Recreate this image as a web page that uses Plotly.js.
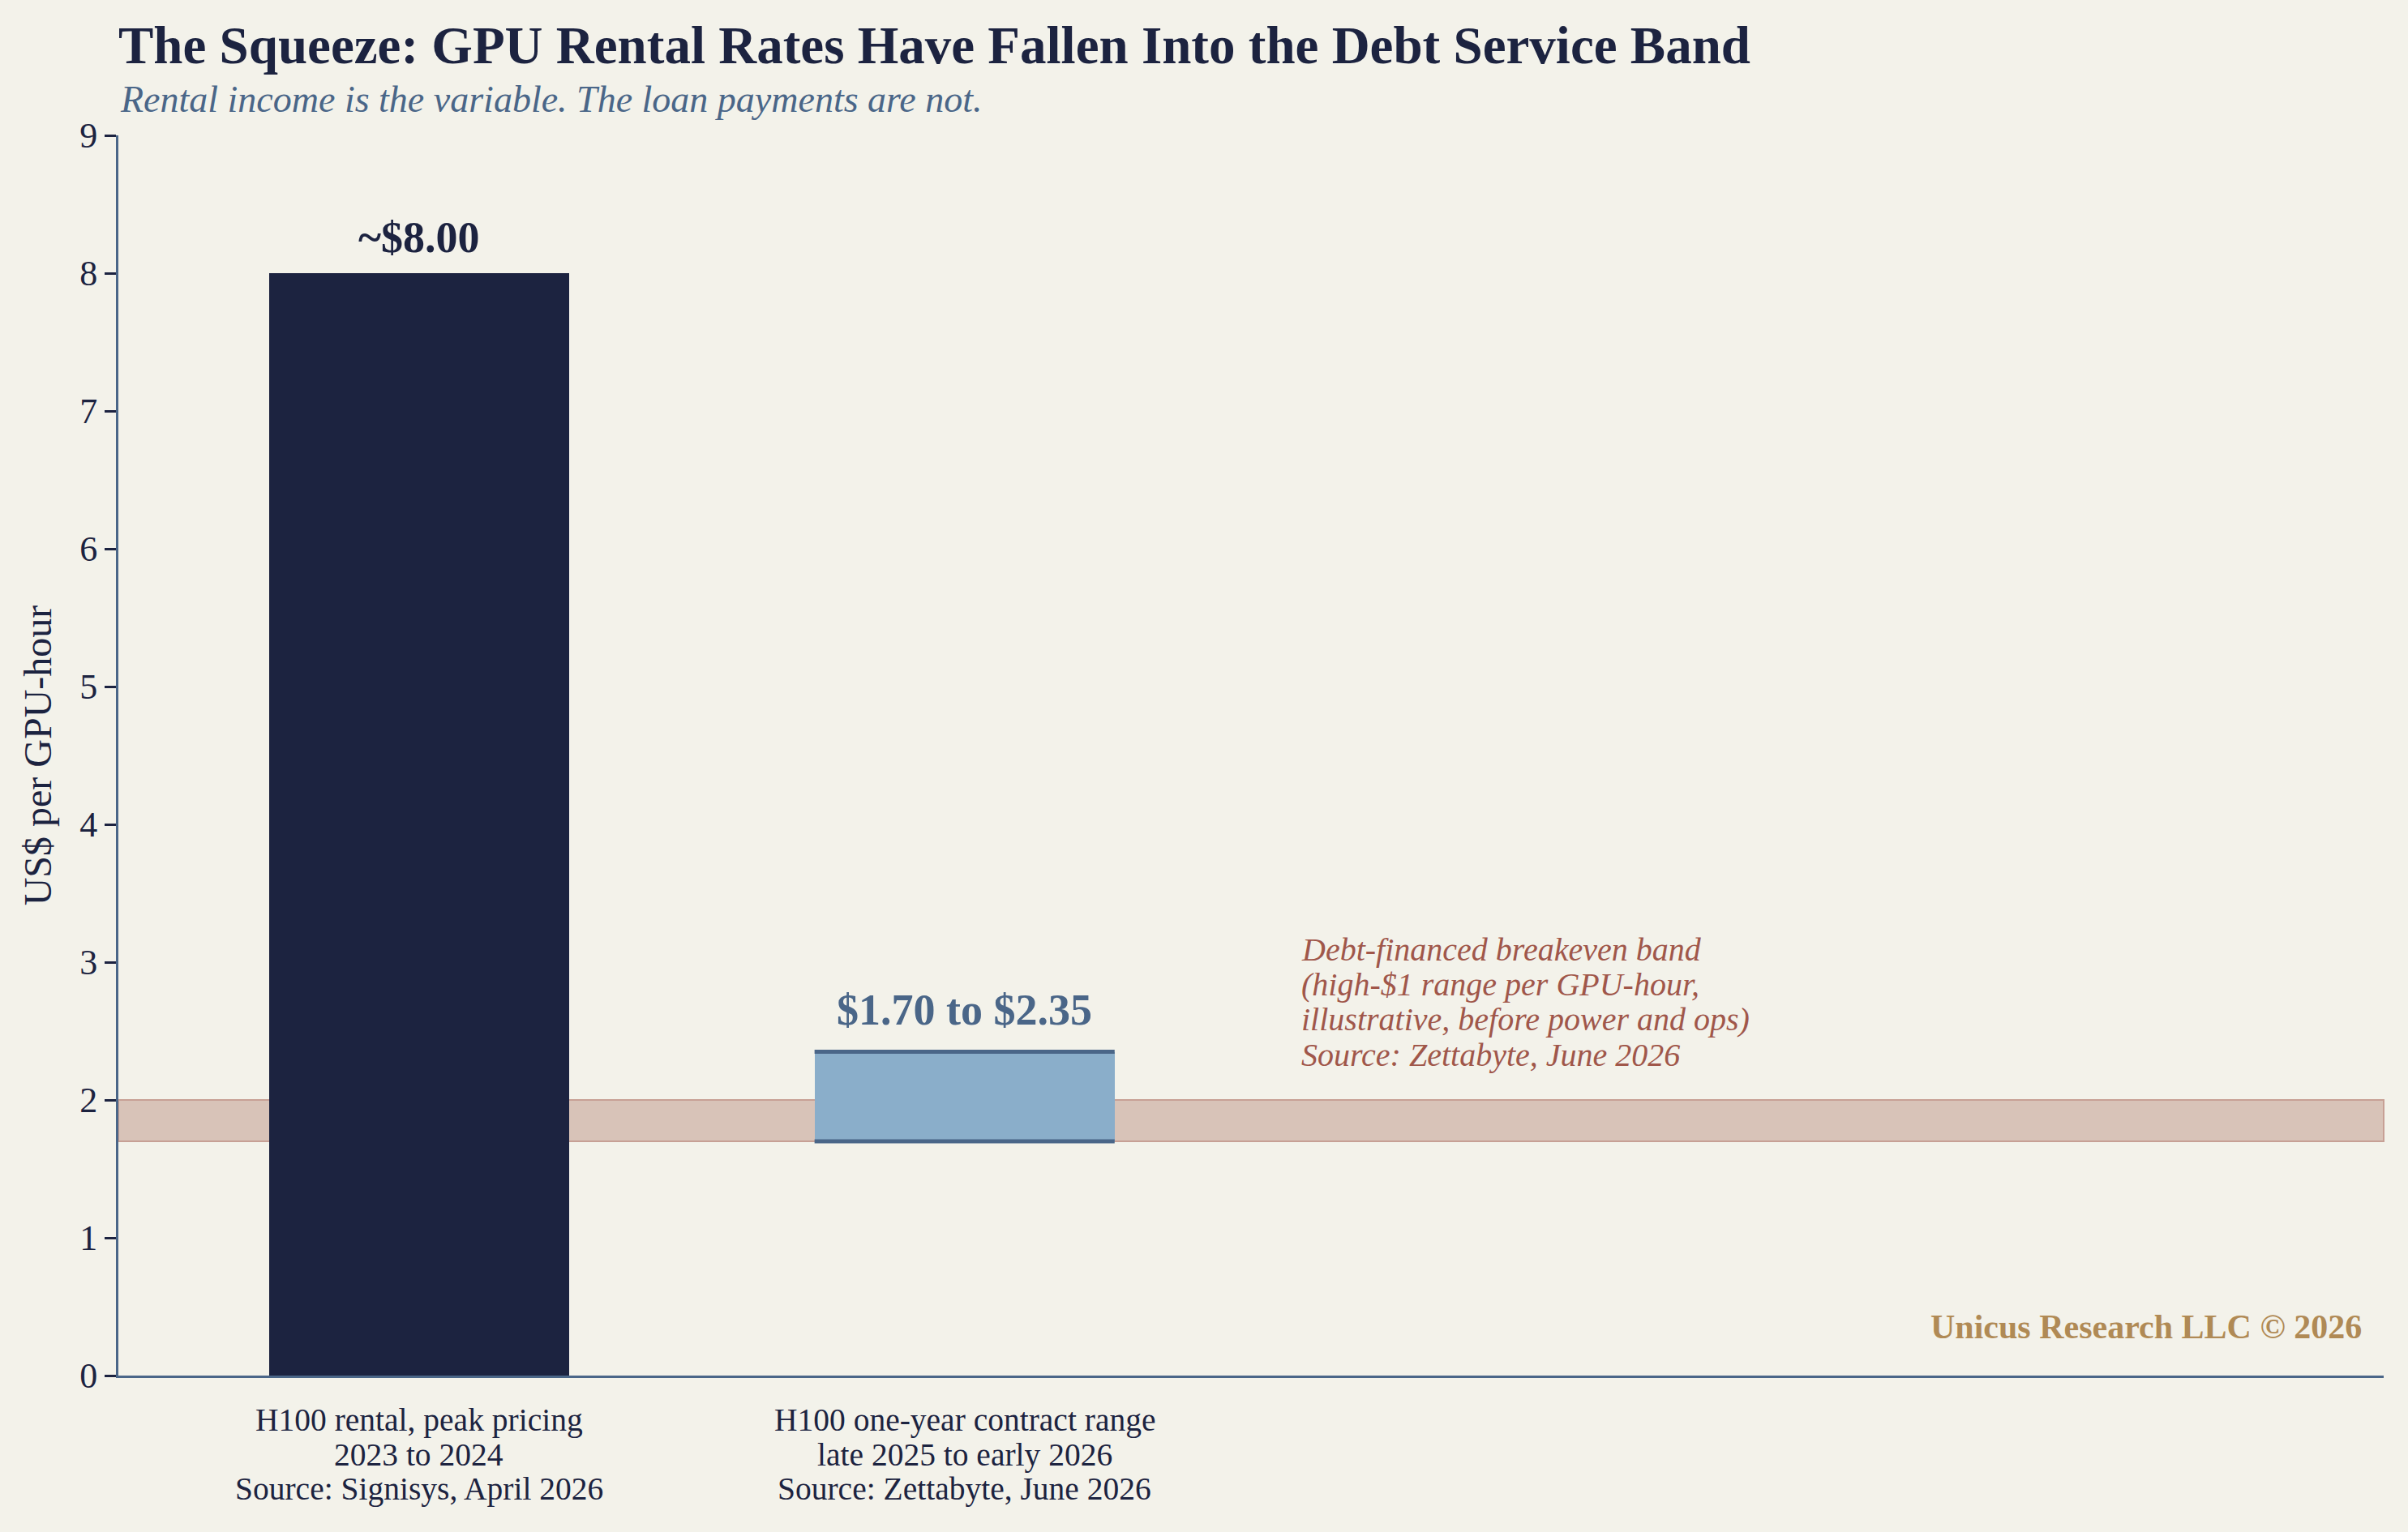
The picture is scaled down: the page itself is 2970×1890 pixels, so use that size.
<!DOCTYPE html>
<html>
<head>
<meta charset="utf-8">
<script src="https://cdn.plot.ly/plotly-3.0.1.min.js"></script>
<style>
  html, body { margin: 0; padding: 0; background: #f3f2ea; }
  #chart { width: 2970px; height: 1890px; }
</style>
</head>
<body>
<div id="chart"></div>
<script>
// categories and values
var categories = [
  ["H100 rental, peak pricing", "2023 to 2024", "Source: Signisys, April 2026"],
  ["H100 one-year contract range", "late 2025 to early 2026", "Source: Zettabyte, June 2026"]
];
var peakRate = [8.00];
var contractLow = [1.70];
var contractHigh = [2.35];
var bandLow = 1.70;
var bandHigh = 2.00;
var peakLabel = "~$8.00";
var rangeLabel = "$1.70 to $2.35";
var noteLines = [
  "Debt-financed breakeven band",
  "(high-$1 range per GPU-hour,",
  "illustrative, before power and ops)",
  "Source: Zettabyte, June 2026"
];

var navy = "#1c2340";
var slate = "#4a6688";
var rust = "#a0574a";
var gold = "#b08a55";
var serif = "Liberation Serif, Times New Roman, serif";
var barWidth = 0.55;

var peakBar = {
  type: "bar",
  x: [0],
  y: peakRate,
  width: barWidth,
  marker: { color: navy, line: { width: 0 } },
  hoverinfo: "skip"
};

var rangeBar = {
  type: "bar",
  x: [1],
  base: contractLow,
  y: [contractHigh[0] - contractLow[0]],
  width: barWidth,
  marker: { color: "#8aaeca", line: { width: 0 } },
  hoverinfo: "skip"
};

function edge(v) {
  return {
    type: "scatter",
    mode: "lines",
    x: [1 - barWidth / 2, 1 + barWidth / 2],
    y: [v, v],
    line: { color: slate, width: 5 },
    hoverinfo: "skip"
  };
}

var data = [peakBar, rangeBar, edge(contractLow[0]), edge(contractHigh[0])];

var annotations = [
  {
    x: 0, y: peakRate[0], xref: "x", yref: "y",
    text: "<b>" + peakLabel + "</b>", showarrow: false,
    yanchor: "middle", yshift: 44,
    font: { family: serif, size: 54, color: navy }
  },
  {
    x: 1, y: contractHigh[0], xref: "x", yref: "y",
    text: "<b>" + rangeLabel + "</b>", showarrow: false,
    yanchor: "middle", yshift: 52,
    font: { family: serif, size: 54, color: slate }
  },
  {
    x: 0, y: 1, xref: "paper", yref: "paper",
    text: "<i>Rental income is the variable. The loan payments are not.</i>",
    showarrow: false, xanchor: "left", yanchor: "middle",
    yshift: 45,
    font: { family: serif, size: 46, color: slate }
  },
  {
    x: 1, y: 0.039, xref: "paper", yref: "paper",
    text: "<b>Unicus Research LLC © 2026</b>", showarrow: false,
    xanchor: "right", yanchor: "middle", xshift: -25,
    font: { family: serif, size: 42, color: gold }
  }
];

noteLines.forEach(function (line, i) {
  annotations.push({
    x: 1.614, y: 2.71, xref: "x", yref: "y",
    text: "<i>" + line + "</i>", showarrow: false,
    xanchor: "left", yanchor: "middle",
    yshift: (1.5 - i) * 43.3,
    font: { family: serif, size: 40, color: rust }
  });
});

// category labels under the axis, three lines each
categories.forEach(function (lines, c) {
  lines.forEach(function (line, i) {
    annotations.push({
      x: c, y: 0, xref: "x", yref: "paper",
      text: line, showarrow: false,
      xanchor: "center", yanchor: "middle",
      yshift: -(55 + i * 42.5),
      font: { family: serif, size: 39.5, color: navy }
    });
  });
});

var layout = {
  width: 2970,
  height: 1890,
  paper_bgcolor: "#f3f2ea",
  plot_bgcolor: "#f3f2ea",
  margin: { l: 146, r: 30, t: 167, b: 193 },
  showlegend: false,
  bargap: 0,
  title: {
    text: "<b>The Squeeze: GPU Rental Rates Have Fallen Into the Debt Service Band</b>",
    xref: "paper", x: 0, xanchor: "left",
    yref: "container", y: 0.971, yanchor: "middle",
    font: { family: serif, size: 65, color: navy }
  },
  xaxis: {
    range: [-0.551, 3.601],
    tickmode: "array",
    tickvals: [0, 1],
    showticklabels: false,
    ticks: "",
    showline: true,
    linecolor: slate,
    linewidth: 3,
    showgrid: false,
    zeroline: false
  },
  yaxis: {
    range: [0, 9],
    dtick: 1,
    ticks: "outside",
    ticklen: 14,
    tickwidth: 3,
    tickcolor: navy,
    showline: true,
    linecolor: slate,
    linewidth: 3,
    showgrid: false,
    zeroline: false,
    tickfont: { family: serif, size: 44, color: navy },
    title: {
      text: "US$ per GPU-hour",
      standoff: 20,
      font: { family: serif, size: 48, color: navy }
    }
  },
  shapes: [
    {
      type: "rect", layer: "below",
      xref: "paper", x0: 0, x1: 1,
      yref: "y", y0: bandLow, y1: bandHigh,
      fillcolor: "#d8c3b8",
      line: { color: "#c7a095", width: 2 }
    }
  ],
  annotations: annotations
};

Plotly.newPlot(document.getElementById("chart"), data, layout, { displayModeBar: false, staticPlot: true });
</script>
</body>
</html>
